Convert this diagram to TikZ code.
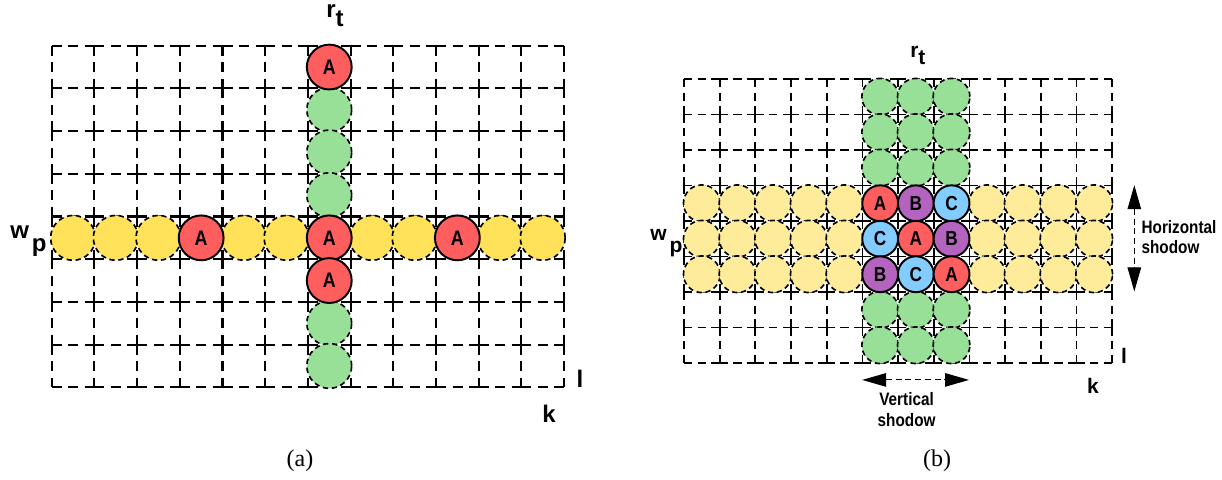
\documentclass[tikz,border=0pt]{standalone}
\usepackage{fontspec}
\setmainfont{Liberation Serif}
\newfontfamily\labelfont{Liberation Sans}
\newfontfamily\narrowfont{Liberation Sans}[FakeStretch=0.85]
\usetikzlibrary{arrows.meta,positioning}

\definecolor{ballred}{RGB}{255,94,94}
\definecolor{ballgreen}{RGB}{152,224,152}
\definecolor{ballyellow}{RGB}{255,225,90}
\definecolor{paleyellow}{RGB}{255,236,155}
\definecolor{ballblue}{RGB}{130,204,255}
\definecolor{ballpurple}{RGB}{180,100,190}

\tikzset{
  bigcell/.style={line width=1.4pt, dash pattern=on 6.7pt off 4.3pt},
  smallcell/.style={line width=1.15pt, dash pattern=on 5.5pt off 3.6pt},
  ball/.style={circle, inner sep=0pt, minimum size=1.05cm,
    font=\narrowfont\bfseries\fontsize{14}{14}\selectfont},
  smallball/.style={ball, minimum size=0.86cm,
    font=\narrowfont\bfseries\fontsize{13.5}{13.5}\selectfont},
  solidrim/.style={draw=black, line width=1.3pt},
  dashrim/.style={draw=black, line width=1.1pt, dash pattern=on 3.5pt off 2.5pt},
  axislabel/.style={inner sep=0pt, anchor=base west,
    font=\labelfont\bfseries\fontsize{16}{16}\selectfont},
  axislabelb/.style={axislabel, font=\labelfont\bfseries\fontsize{14}{14}\selectfont},
  note/.style={inner sep=0pt, font=\narrowfont\bfseries\fontsize{12}{13.5}\selectfont},
  shadowarrow/.style={line width=0.7pt, dash pattern=on 4pt off 2.5pt,
    {Triangle[length=16pt,width=9pt]}-{Triangle[length=16pt,width=9pt]}},
  caption/.style={inner sep=0pt, anchor=base, font=\fontsize{16}{16}\selectfont}
}

\begin{document}
\begin{tikzpicture}[x=0.02342cm, y=-0.02342cm]
  \useasboundingbox (0,0) rectangle (1222,479);

  % (a) single tiles
  \begin{scope}[shift={(51.7,45.7)}, scale=42.7]
    \foreach \c in {0,...,11}
      \foreach \r in {0,...,8}
        \draw[bigcell] (\c,\r) -- (\c+1,\r);
    \foreach \c in {0,...,12}
      \foreach \r in {0,...,7}
        \draw[bigcell] (\c,\r) -- (\c,\r+1);
    \foreach \c in {1,2,3,5,6,8,9,11,12}
      \node[ball, fill=ballyellow, dashrim] (a\c-5) at (\c-0.5,4.5) {};
    \foreach \r in {2,3,4,7,8}
      \node[ball, fill=ballgreen, dashrim] (a7-\r) at (6.5,\r-0.5) {};
    \foreach \c/\r in {7/1,4/5,7/5,7/6,10/5}
      \node[ball, fill=ballred, solidrim] (a\c-\r) at (\c-0.5,\r-0.5) {A};
  \end{scope}

  \node[axislabel] (rta) at (326,17) {r\raisebox{-6pt}{t}};
  \node[axislabel] (wpa) at (10,238) {w\hspace{2pt}\raisebox{-9pt}{p}};
  \node[axislabel, anchor=base] (la) at (580,387) {l};
  \node[axislabel, anchor=base] (ka) at (549,422) {k};
  \node[caption] (capa) at (300,466) {(a)};

  % (b) 3x3 block
  \begin{scope}[shift={(684,79)}, xscale=35.67, yscale=35.5]
    \foreach \c in {0,...,11}
      \foreach \r in {0,...,8}
        \draw[smallcell] (\c,\r) -- (\c+1,\r);
    \foreach \c in {0,...,12}
      \foreach \r in {0,...,7}
        \draw[smallcell] (\c,\r) -- (\c,\r+1);
    \foreach \r in {4,5,6}
      \foreach \c in {1,2,3,4,5,9,10,11,12}
        \node[smallball, fill=paleyellow, dashrim] (b\c-\r) at (\c-0.5,\r-0.5) {};
    \foreach \c in {6,7,8}
      \foreach \r in {1,2,3,7,8}
        \node[smallball, fill=ballgreen, dashrim] (b\c-\r) at (\c-0.5,\r-0.5) {};
    \foreach \c/\r/\t/\col in {6/4/A/ballred,7/4/B/ballpurple,8/4/C/ballblue,
                               6/5/C/ballblue,7/5/A/ballred,8/5/B/ballpurple,
                               6/6/B/ballpurple,7/6/C/ballblue,8/6/A/ballred}
      \node[smallball, minimum size=0.84cm, fill=\col, solidrim] (b\c-\r) at (\c-0.5,\r-0.5) {\t};

    \coordinate (vsw) at (5,8.5);
    \coordinate (vse) at (8,8.5);
    \coordinate (hsn) at (12.64,3);
    \coordinate (hss) at (12.64,6);
    \draw[shadowarrow] (vsw) -- (vse);
    \draw[shadowarrow] (hsn) -- (hss);
    \node[note, anchor=north, align=center] (vsnote) at (6.24,8.83) {Vertical\\shodow};
    \node[note, anchor=north west, align=left] (hsnote) at (12.82,3.98) {Horizontal\\shodow};
  \end{scope}

  \node[axislabelb] (rtb) at (910,57) {r\raisebox{-5pt}{t}};
  \node[axislabelb] (wpb) at (650,240) {w\hspace{2pt}\raisebox{-8pt}{p}};
  \node[axislabelb, anchor=base] (lb) at (1124,363) {l};
  \node[axislabelb, anchor=base] (kb) at (1093,393) {k};
  \node[caption] (capb) at (937,466) {(b)};
\end{tikzpicture}
\end{document}
